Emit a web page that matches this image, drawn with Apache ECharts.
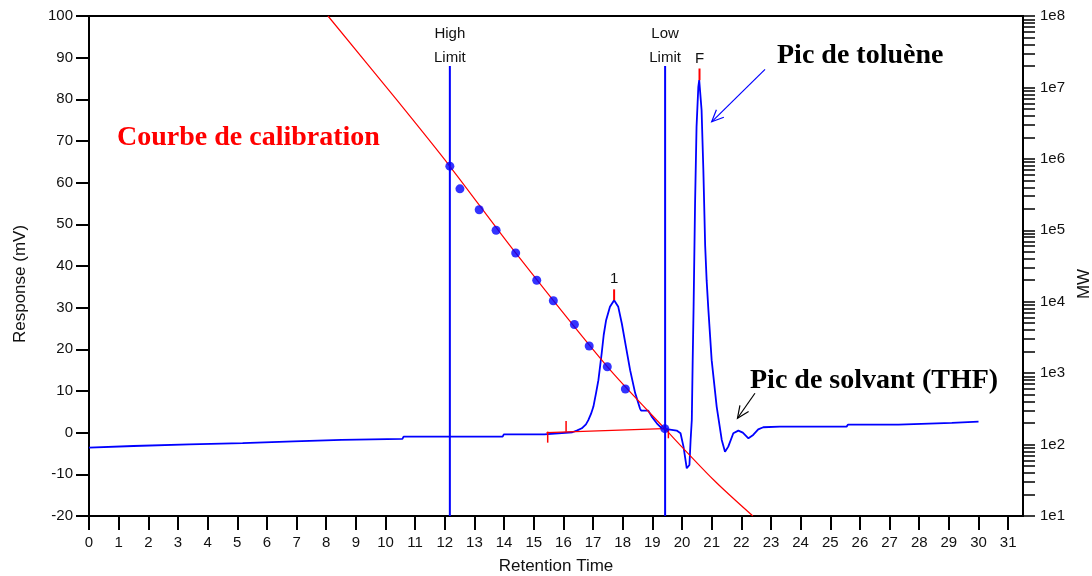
<!DOCTYPE html>
<html>
<head>
<meta charset="utf-8">
<script src="https://cdn.jsdelivr.net/npm/echarts@6/dist/echarts.min.js"></script>
<style>
  html, body { margin: 0; padding: 0; background: #fff; }
  #chart { width: 1092px; height: 576px; }
</style>
</head>
<body>
<div id="chart"></div>
<script>
// ---- Axis ticks ----
const timeTicks = [0, 1, 2, 3, 4, 5, 6, 7, 8, 9, 10, 11, 12, 13, 14, 15, 16, 17, 18, 19, 20,
                   21, 22, 23, 24, 25, 26, 27, 28, 29, 30, 31];
const mwDecades = [1e1, 1e2, 1e3, 1e4, 1e5, 1e6, 1e7, 1e8];
const mwMantissas = [1, 2, 3, 4, 5, 6, 7, 8, 9];

// ---- Chromatogram (refractive index response, mV vs retention time, min) ----
const chromTime = [
  0, 0.05, 1.5, 1.55, 3.38, 3.42, 5.18, 5.22, 6.9, 6.94, 8.52, 8.56, 10.57, 10.61,
  13.95, 13.99, 15.36, 15.4, 16.3, 16.45, 16.62, 16.76, 16.84, 16.93, 17.01, 17.1,
  17.18, 17.29, 17.36, 17.44, 17.57, 17.71, 17.85, 17.97, 18.11, 18.25, 18.42, 18.58,
  18.62, 18.86, 18.98, 19.15, 19.32, 19.54, 19.82, 19.95, 20.05, 20.16, 20.25, 20.29,
  20.33, 20.36, 20.39, 20.42, 20.44, 20.49, 20.55, 20.58, 20.66, 20.72, 20.78, 20.83,
  20.89, 21.0, 21.17, 21.34, 21.45, 21.56, 21.73, 21.9, 22.05, 22.24, 22.4, 22.57,
  22.74, 23.3, 25.55, 25.6, 27.3, 27.35, 29.1, 29.15, 30.0
];
const chromSignal = [
  -3.6, -3.2, -3.2, -2.8, -2.8, -2.5, -2.5, -2.1, -2.1, -1.75, -1.75, -1.5, -1.5, -0.95,
  -0.95, -0.4, -0.4, 0, 0.1, 0.5, 1.05, 2.0, 3.0, 4.5, 6.2, 9.5,
  12.6, 19, 23.5, 27, 30.2, 31.8, 30.2, 26.2, 20.6, 15, 9.5, 5.85,
  5.3, 5.3, 3.85, 2.25, 1.05, 0.8, 0.5, -0.15, -3.35, -8.55, -7.75, -1.75,
  3.05, 17.4, 30, 45, 55, 73.4, 83, 84.6, 77.4, 63, 45, 36.6,
  29.4, 17.4, 6.2, -1.75, -4.6, -3.35, -0.15, 0.5, 0, -1.35, -0.55, 0.8,
  1.3, 1.45, 1.45, 1.95, 1.95, 2.35, 2.35, 2.65, 2.65
];

// ---- Calibration standards (retention time, molecular weight) ----
const stdTime = [12.17, 12.51, 13.16, 13.73, 14.39, 15.10, 15.66, 16.37, 16.87, 17.48, 18.09, 19.42];
const stdMW = [790000, 380000, 194000, 100000, 48000, 20000, 10300, 4800, 2400, 1230, 600, 167];

// ---- Fitted calibration curve ----
const curveTime = [8.06, 10.38, 12.17, 14.39, 17.48, 19.42, 21.07, 22.39];
const curveMW = [1e8, 6.67e6, 7.87e5, 4.81e4, 1230, 167, 31.9, 10];

// ---- Integration limits ----
const limitTime = [12.17, 19.43];
const limitNames = ['High\nLimit', 'Low\nLimit'];
const limitLow = -20;
const limitHigh = 88;

// ---- Detected peaks: apex marker ----
const peakTime = [17.71, 20.59];
const peakApex = [31.8, 84.6];
const peakMarkTop = [34.4, 87.4];
const peakNames = ['1', 'F'];

// ---- Integration baseline and its tick marks ----
const baseTime = [15.43, 19.37];
const baseSignal = [0, 0.95];
const baseTickTime = [15.47, 16.09, 19.54];
const baseTickFrom = [0.25, 2.8, 0.8];
const baseTickTo = [-2.4, 0.25, -1.35];

// ---- Annotation arrows (retention time, mV) ----
const arrowStart = [[22.80, 87.2], [22.46, 9.46]];
const arrowEnd = [[21.00, 74.6], [21.87, 3.46]];
const arrowColors = ['#0000ff', '#000000'];

const mwTicks = [];
mwDecades.forEach(function (d, i) {
  if (i === mwDecades.length - 1) { mwTicks.push(d); return; }
  mwMantissas.forEach(function (m) { mwTicks.push(m * d); });
});

const BLUE = '#0000ff';
const RED = '#ff0000';
const SANS = '"Liberation Sans", Arial, Helvetica, sans-serif';
const SERIF = '"Liberation Serif", "Times New Roman", serif';

const chart = echarts.init(document.getElementById('chart'), null, { renderer: 'canvas' });

function labelText(x, y, text) {
  return {
    type: 'text', x: x, y: y,
    style: {
      text: text, fill: '#111', font: '15px ' + SANS,
      align: 'center', verticalAlign: 'bottom', lineHeight: 24
    }
  };
}

const option = {
  animation: false,
  backgroundColor: '#fff',
  grid: {
    left: 89, right: 69, top: 16, bottom: 60,
    containLabel: false, outerBoundsMode: 'none',
    show: true, borderColor: '#000', borderWidth: 2, backgroundColor: 'transparent'
  },
  xAxis: {
    type: 'value', min: 0, max: 31.5,
    name: 'Retention Time', nameLocation: 'middle', nameGap: 42,
    nameTextStyle: { fontSize: 17, fontFamily: SANS, color: '#111' },
    axisLine: { show: true, onZero: false, lineStyle: { color: '#000', width: 2 } },
    axisTick: { show: true, length: 14, customValues: timeTicks, lineStyle: { color: '#000', width: 2 } },
    axisLabel: { customValues: timeTicks, margin: 19, fontSize: 15, fontFamily: SANS, color: '#111' },
    splitLine: { show: false }
  },
  yAxis: [
    {
      type: 'value', min: -20, max: 100, interval: 10, position: 'left',
      name: 'Response (mV)', nameLocation: 'middle', nameGap: 60, nameRotate: 90,
      nameTextStyle: { fontSize: 17, fontFamily: SANS, color: '#111', padding: [0, 36, 0, 0] },
      axisLine: { show: true, onZero: false, lineStyle: { color: '#000', width: 2 } },
      axisTick: { show: true, length: 13, lineStyle: { color: '#000', width: 2 } },
      axisLabel: { margin: 16, fontSize: 15, fontFamily: SANS, color: '#111' },
      splitLine: { show: false }
    },
    {
      type: 'log', logBase: 10, min: 10, max: 1e8, position: 'right',
      name: 'MW', nameLocation: 'middle', nameGap: 50, nameRotate: 90,
      nameTextStyle: { fontSize: 17, fontFamily: SANS, color: '#111', padding: [0, 36, 0, 0] },
      axisLine: { show: true, onZero: false, lineStyle: { color: '#000', width: 2 } },
      axisTick: { show: true, length: 12, customValues: mwTicks, lineStyle: { color: '#000', width: 1.5 } },
      axisLabel: {
        customValues: mwDecades, margin: 17, fontSize: 15, fontFamily: SANS, color: '#111',
        formatter: function (v) { return '1e' + Math.round(Math.log10(v)); }
      },
      splitLine: { show: false }
    }
  ],
  graphic: [
    { type: 'text', x: 117, y: 138, style: { text: 'Courbe de calibration', fill: RED, font: 'bold 28px ' + SERIF, align: 'left', verticalAlign: 'middle' } },
    { type: 'text', x: 777, y: 55.6, style: { text: 'Pic de toluène', fill: '#000', font: 'bold 28px ' + SERIF, align: 'left', verticalAlign: 'middle' } },
    { type: 'text', x: 750, y: 380.6, style: { text: 'Pic de solvant (THF)', fill: '#000', font: 'bold 28px ' + SERIF, align: 'left', verticalAlign: 'middle' } }
  ],
  series: [
    {
      name: 'Chromatogram', type: 'line', xAxisIndex: 0, yAxisIndex: 0,
      data: chromTime.map(function (t, i) { return [t, chromSignal[i]]; }),
      showSymbol: false, symbol: 'none', clip: true, z: 2,
      lineStyle: { color: BLUE, width: 1.8 }
    },
    {
      name: 'Limits', type: 'custom', xAxisIndex: 0, yAxisIndex: 0, z: 3,
      data: limitTime.map(function (t, i) { return [t, limitLow, limitHigh, i]; }),
      encode: { x: 0, y: [1, 2] },
      renderItem: function (params, api) {
        const a = api.coord([api.value(0), api.value(1)]);
        const b = api.coord([api.value(0), api.value(2)]);
        return {
          type: 'group',
          children: [
            { type: 'line', shape: { x1: a[0], y1: a[1], x2: b[0], y2: b[1] }, style: { stroke: BLUE, lineWidth: 2 } },
            labelText(b[0], b[1] + 4, limitNames[api.value(3)])
          ]
        };
      }
    },
    {
      name: 'Integration baseline', type: 'line', xAxisIndex: 0, yAxisIndex: 0, z: 4,
      data: baseTime.map(function (t, i) { return [t, baseSignal[i]]; }),
      showSymbol: false, symbol: 'none',
      lineStyle: { color: RED, width: 1.2 }
    },
    {
      name: 'Integration ticks', type: 'custom', xAxisIndex: 0, yAxisIndex: 0, z: 4,
      data: baseTickTime.map(function (t, i) { return [t, baseTickFrom[i], baseTickTo[i]]; }),
      encode: { x: 0, y: [1, 2] },
      renderItem: function (params, api) {
        const a = api.coord([api.value(0), api.value(1)]);
        const b = api.coord([api.value(0), api.value(2)]);
        return { type: 'line', shape: { x1: a[0], y1: a[1], x2: b[0], y2: b[1] }, style: { stroke: RED, lineWidth: 1.5 } };
      }
    },
    {
      name: 'Calibration', type: 'line', xAxisIndex: 0, yAxisIndex: 1, z: 5,
      data: curveTime.map(function (t, i) { return [t, curveMW[i]]; }),
      showSymbol: false, symbol: 'none', clip: true, smooth: 0.3,
      lineStyle: { color: RED, width: 1.2 }
    },
    {
      name: 'Standards', type: 'scatter', xAxisIndex: 0, yAxisIndex: 1, z: 6,
      data: stdTime.map(function (t, i) { return [t, stdMW[i]]; }),
      symbol: 'circle', symbolSize: 9,
      itemStyle: { color: BLUE }
    },
    {
      name: 'Peaks', type: 'custom', xAxisIndex: 0, yAxisIndex: 0, z: 7,
      data: peakTime.map(function (t, i) { return [t, peakApex[i], peakMarkTop[i], i]; }),
      encode: { x: 0, y: [1, 2] },
      renderItem: function (params, api) {
        const a = api.coord([api.value(0), api.value(1)]);
        const b = api.coord([api.value(0), api.value(2)]);
        return {
          type: 'group',
          children: [
            { type: 'line', shape: { x1: a[0], y1: a[1], x2: b[0], y2: b[1] }, style: { stroke: RED, lineWidth: 2 } },
            labelText(b[0], b[1] + 2, peakNames[api.value(3)])
          ]
        };
      }
    },
    {
      name: 'Arrows', type: 'custom', xAxisIndex: 0, yAxisIndex: 0, z: 8,
      data: arrowStart.map(function (s, i) { return [s[0], s[1], arrowEnd[i][0], arrowEnd[i][1], i]; }),
      encode: { x: [0, 2], y: [1, 3] },
      renderItem: function (params, api) {
        const a = api.coord([api.value(0), api.value(1)]);
        const b = api.coord([api.value(2), api.value(3)]);
        const color = arrowColors[api.value(4)];
        const ang = Math.atan2(b[1] - a[1], b[0] - a[0]);
        const len = 13, spread = 0.42;
        const h1 = [b[0] - len * Math.cos(ang - spread), b[1] - len * Math.sin(ang - spread)];
        const h2 = [b[0] - len * Math.cos(ang + spread), b[1] - len * Math.sin(ang + spread)];
        return {
          type: 'group',
          children: [
            { type: 'line', shape: { x1: a[0], y1: a[1], x2: b[0], y2: b[1] }, style: { stroke: color, lineWidth: 1.2 } },
            { type: 'polyline', shape: { points: [h1, b, h2] }, style: { stroke: color, fill: null, lineWidth: 1.2 } }
          ]
        };
      }
    }
  ]
};

chart.setOption(option);
</script>
</body>
</html>
